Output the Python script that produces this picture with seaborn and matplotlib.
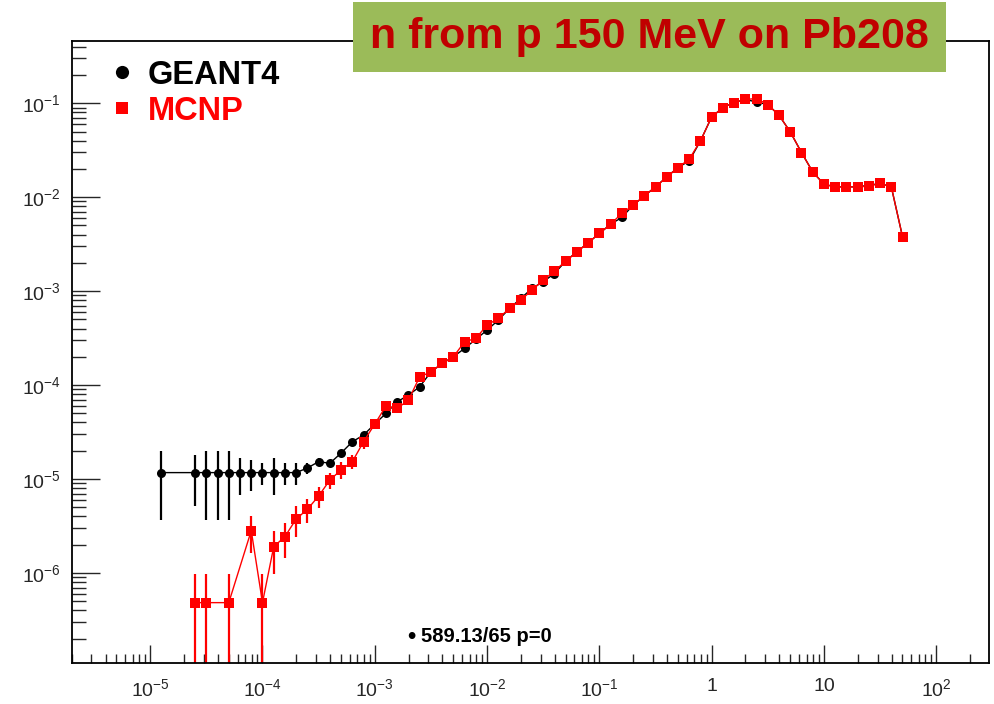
import numpy as np
import pandas as pd
import matplotlib
matplotlib.use("Agg")
import matplotlib.pyplot as plt
import seaborn as sns
from matplotlib.lines import Line2D
from matplotlib.patches import Rectangle
from matplotlib.ticker import FixedLocator, FixedFormatter, LogLocator, NullFormatter

# ---------------- data ----------------
# log-spaced histogram bin centres, 10 bins per decade
energy_mev = np.logspace(-4.9, 1.7, 67)

geant4 = [1.17e-5, None, None, 1.17e-5, 1.17e-5, 1.17e-5, 1.17e-5, 1.17e-5, 1.17e-5, 1.17e-5,
          1.17e-5, 1.17e-5, 1.17e-5, 1.31e-5, 1.53e-5, 1.47e-5, 1.89e-5, 2.49e-5, 2.94e-5, 3.85e-5,
          5.0e-5, 6.64e-5, 7.83e-5, 9.59e-5, 1.38e-4, 1.70e-4, 2.0e-4, 2.46e-4, 3.07e-4, 3.85e-4,
          4.91e-4, 6.55e-4, 8.35e-4, 1.07e-3, 1.26e-3, 1.54e-3, 2.09e-3, 2.62e-3, 3.27e-3, 4.11e-3,
          5.16e-3, 6.08e-3, 8.22e-3, 1.03e-2, 1.29e-2, 1.64e-2, 2.07e-2, 2.43e-2, 3.97e-2, 7.15e-2,
          9.0e-2, 0.1017, 0.110, 0.103, 0.0969, 0.0745, 0.0496, 0.0299, 0.0186, 0.01374,
          0.01288, 0.01288, 0.01288, 0.0134, 0.014, 0.01288, 3.78e-3]

mcnp = [None, None, None, 4.83e-7, 4.83e-7, None, 4.83e-7, None, 2.82e-6, 4.83e-7,
        1.9e-6, 2.44e-6, 3.75e-6, 4.76e-6, 6.59e-6, 9.75e-6, 1.25e-5, 1.53e-5, 2.49e-5, 3.85e-5,
        5.98e-5, 5.65e-5, 6.92e-5, 1.225e-4, 1.38e-4, 1.70e-4, 2.0e-4, 2.89e-4, 3.14e-4, 4.35e-4,
        5.13e-4, 6.55e-4, 8.02e-4, 1.025e-3, 1.31e-3, 1.63e-3, 2.09e-3, 2.62e-3, 3.27e-3, 4.11e-3,
        5.16e-3, 6.72e-3, 8.22e-3, 1.03e-2, 1.29e-2, 1.64e-2, 2.07e-2, 2.54e-2, 3.97e-2, 7.15e-2,
        9.0e-2, 0.1017, 0.110, 0.112, 0.0969, 0.0745, 0.0496, 0.0299, 0.0186, 0.01374,
        0.01288, 0.01288, 0.01288, 0.0131, 0.014, 0.01288, 3.78e-3]

# statistical errors of the low-energy bins (the rest are hidden by the markers)
geant4_err_low = [0.8e-5, 0, 0, 0.65e-5, 0.8e-5, 0.8e-5, 0.8e-5, 0.5e-5, 0.43e-5, 0.3e-5,
                  0.5e-5, 0.3e-5, 0.3e-5, 0.18e-5, 0.15e-5, 0.1e-5, 0.1e-5, 0.12e-5, 0.15e-5, 0.2e-5]
mcnp_err_low = [0, 0, 0, 4.83e-7, 4.83e-7, 0, 4.83e-7, 0, 1.2e-6, 4.83e-7,
                0.93e-6, 1.0e-6, 1.35e-6, 1.35e-6, 1.7e-6, 1.9e-6, 2.6e-6, 2.5e-6, 4.0e-6, 4.0e-6]

series_names = ["GEANT4", "MCNP"]
series_colors = {"GEANT4": "black", "MCNP": "red"}
series_markers = {"GEANT4": "o", "MCNP": "s"}

x_major = [1e-5, 1e-4, 1e-3, 1e-2, 1e-1, 1, 10, 100]
x_labels = ["$10^{-5}$", "$10^{-4}$", "$10^{-3}$", "$10^{-2}$", "$10^{-1}$", "1", "10", "$10^{2}$"]
y_major = [1e-6, 1e-5, 1e-4, 1e-3, 1e-2, 1e-1]
y_labels = ["$10^{-6}$", "$10^{-5}$", "$10^{-4}$", "$10^{-3}$", "$10^{-2}$", "$10^{-1}$"]

title_text = "n from p 150 MeV on Pb208"
chi2_text = "589.13/65 p=0"

# ---------------- table ----------------
n = len(energy_mev)
def pad(a):
    return list(a) + [0.0] * (n - len(a))

df = pd.DataFrame({
    "energy": np.concatenate([energy_mev, energy_mev]),
    "flux": np.array([np.nan if v is None else v for v in geant4 + mcnp], dtype=float),
    "err": np.array(pad(geant4_err_low) + pad(mcnp_err_low), dtype=float),
    "code": ["GEANT4"] * n + ["MCNP"] * n,
}).dropna(subset=["flux"])

# ---------------- style ----------------
sns.set_style("white")
plt.rcParams["font.family"] = ["Liberation Sans", "DejaVu Sans"]
plt.rcParams["mathtext.fontset"] = "custom"
plt.rcParams["mathtext.rm"] = "Liberation Sans"
plt.rcParams["mathtext.it"] = "Liberation Sans:italic"
plt.rcParams["mathtext.bf"] = "Liberation Sans:bold"

fig = plt.figure(figsize=(9.94, 7.04), dpi=100)
ax = fig.add_axes([71.7 / 994, 1 - 663 / 704, (989 - 71.7) / 994, (663 - 41) / 704])
ax.set_xscale("log")
ax.set_yscale("log", nonpositive="clip")

# error bars
for name in series_names:
    d = df[df["code"] == name]
    m = d["err"] > 0
    ax.errorbar(d["energy"][m], d["flux"][m], yerr=d["err"][m], fmt="none",
                ecolor=series_colors[name], elinewidth=1.6, capsize=0, zorder=2)

sns.lineplot(data=df, x="energy", y="flux", hue="code", style="code",
             hue_order=series_names, style_order=series_names,
             palette=series_colors, markers=series_markers, dashes=False,
             estimator=None, sort=True, linewidth=1.0, markersize=6.5,
             markeredgewidth=0, legend=False, ax=ax, zorder=3)

ax.set_xlim(2.0e-6, 295)
ax.set_ylim(1.1e-7, 0.46)

ax.xaxis.set_major_locator(FixedLocator(x_major))
ax.xaxis.set_major_formatter(FixedFormatter(x_labels))
ax.xaxis.set_minor_locator(LogLocator(base=10, subs=np.arange(2, 10), numticks=30))
ax.xaxis.set_minor_formatter(NullFormatter())
ax.yaxis.set_major_locator(FixedLocator(y_major))
ax.yaxis.set_major_formatter(FixedFormatter(y_labels))
ax.yaxis.set_minor_locator(LogLocator(base=10, subs=np.arange(2, 10), numticks=30))
ax.yaxis.set_minor_formatter(NullFormatter())

ax.tick_params(axis="x", which="major", direction="in", length=13, width=1.0,
               labelsize=14, pad=11, top=False, bottom=True)
ax.tick_params(axis="x", which="minor", direction="in", length=6.5, width=1.0,
               top=False, bottom=True)
ax.tick_params(axis="y", which="major", direction="in", length=20, width=1.0,
               labelsize=14, pad=8, right=False, left=True)
ax.tick_params(axis="y", which="minor", direction="in", length=10, width=1.0,
               right=False, left=True)
ax.set_xlabel("")
ax.set_ylabel("")
for s in ax.spines.values():
    s.set_color("black")
    s.set_linewidth(1.3)

# legend
handles = [Line2D([], [], color=series_colors[nm], marker=series_markers[nm], linestyle="none",
                  markersize=9.5 if nm == "GEANT4" else 8, markeredgewidth=0) for nm in series_names]
leg = ax.legend(handles, series_names, loc="upper left", bbox_to_anchor=(0.037, 0.97),
                frameon=False, handlelength=1.0, handletextpad=0.28, labelspacing=0.16,
                borderpad=0, borderaxespad=0,
                prop={"family": "Liberation Sans", "weight": "bold", "size": 23.5})
for t, nm in zip(leg.get_texts(), series_names):
    t.set_color(series_colors[nm])

# chi2 annotation
fig.text(411.5 / 994, 1 - 636.5 / 704, "\u2022", ha="center", va="center",
         fontsize=17, color="black", fontweight="bold")
fig.text(421 / 994, 1 - 637 / 704, chi2_text, ha="left", va="center",
         fontsize=14.5, color="black", fontweight="bold")

# title box
fig.patches.append(Rectangle((353 / 994, 1 - 72 / 704), 593 / 994, 70 / 704,
                             transform=fig.transFigure, facecolor="#9BBB59",
                             edgecolor="none", zorder=5))
fig.text(649.5 / 994, 1 - 37 / 704, title_text, ha="center", va="center",
         fontsize=31, fontweight="bold", color="#C00000", zorder=6)

fig.savefig("out.png", dpi=100)
